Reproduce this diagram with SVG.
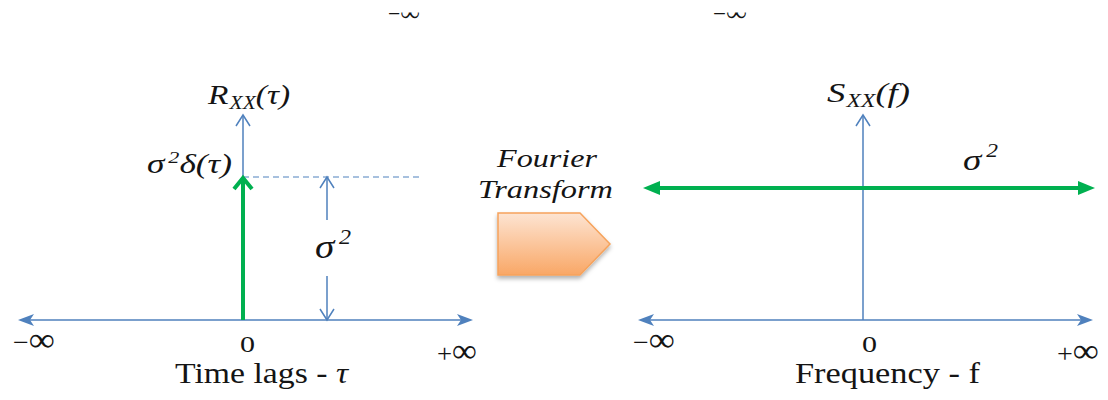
<svg xmlns="http://www.w3.org/2000/svg" width="1108" height="400" viewBox="0 0 1108 400">
<style>
  .ax { stroke:#4f81bd; stroke-width:1.5; fill:none; }
  .gr { stroke:#00b050; stroke-width:4; fill:none; }
  .dash { stroke:#4f81bd; stroke-width:1; stroke-dasharray:6 4; fill:none; }
  .t { font-family:"Liberation Serif","Times New Roman",serif; fill:#141414; }
  .m { font-family:"Liberation Serif","Times New Roman",serif; font-style:italic; fill:#141414; }
</style>
<defs>
  <marker id="blueTri" markerUnits="userSpaceOnUse" markerWidth="18" markerHeight="14" viewBox="0 0 18 14" refX="4" refY="6" orient="auto-start-reverse" overflow="visible">
    <path d="M0,0 L16,6 L0,12 L4,6 Z" fill="#4f81bd"/>
  </marker>
  <marker id="blueChev" markerUnits="userSpaceOnUse" markerWidth="14" markerHeight="16" viewBox="0 0 14 16" refX="11" refY="7" orient="auto" overflow="visible">
    <path d="M0,0 L11,7 L0,14" fill="none" stroke="#4f81bd" stroke-width="1.5"/>
  </marker>
  <marker id="greenChev" markerUnits="userSpaceOnUse" markerWidth="16" markerHeight="22" viewBox="0 0 16 22" refX="11" refY="9" orient="auto" overflow="visible">
    <path d="M0,0 L11,9 L0,18" fill="none" stroke="#00b050" stroke-width="4"/>
  </marker>
  <marker id="greenTri" markerUnits="userSpaceOnUse" markerWidth="20" markerHeight="16" viewBox="0 0 20 16" refX="4" refY="7" orient="auto-start-reverse" overflow="visible">
    <path d="M0,0 L17,7 L0,14 Z" fill="#00b050"/>
  </marker>
  <linearGradient id="og" x1="0" y1="0" x2="0" y2="1">
    <stop offset="0" stop-color="#fde4d2"/>
    <stop offset="1" stop-color="#f9a766"/>
  </linearGradient>
  <filter id="sh" x="-20%" y="-20%" width="140%" height="150%">
    <feDropShadow dx="0" dy="3" stdDeviation="2" flood-color="#000" flood-opacity="0.3"/>
  </filter>
  <clipPath id="topclip"><rect x="0" y="12.5" width="1108" height="400"/></clipPath>
</defs>

<rect width="1108" height="400" fill="#ffffff"/>

<g id="top-remnants" clip-path="url(#topclip)">
  <text class="t" x="388" y="21" font-size="22" textLength="32" lengthAdjust="spacingAndGlyphs">−<tspan font-size="28">∞</tspan></text>
  <text class="t" x="713" y="21" font-size="22" textLength="34" lengthAdjust="spacingAndGlyphs">−<tspan font-size="28">∞</tspan></text>
</g>

<g id="connectors">
  <line class="ax" x1="30" y1="320" x2="461" y2="320" marker-start="url(#blueTri)" marker-end="url(#blueTri)"/>
  <line class="ax" x1="243" y1="320" x2="243" y2="115" marker-end="url(#blueChev)"/>
  <line class="dash" x1="243" y1="177" x2="423" y2="177"/>
  <line class="ax" x1="327" y1="220" x2="327" y2="177" marker-end="url(#blueChev)"/>
  <line class="ax" x1="327" y1="276" x2="327" y2="320" marker-end="url(#blueChev)"/>
  <line class="gr" x1="243" y1="320" x2="243" y2="178" marker-end="url(#greenChev)"/>
  <line class="ax" x1="650" y1="320" x2="1081" y2="320" marker-start="url(#blueTri)" marker-end="url(#blueTri)"/>
  <line class="ax" x1="863" y1="320" x2="863" y2="115" marker-end="url(#blueChev)"/>
  <line class="gr" x1="656" y1="188" x2="1082" y2="188" marker-start="url(#greenTri)" marker-end="url(#greenTri)"/>
</g>

<g id="left-labels">
  <text class="m" x="208" y="104" font-size="28" textLength="82" lengthAdjust="spacingAndGlyphs">R<tspan font-size="18" dy="5" dx="1">XX</tspan><tspan dy="-5">(τ)</tspan></text>
  <text class="m" x="147" y="173" font-size="27" textLength="85" lengthAdjust="spacingAndGlyphs">σ<tspan font-size="17" dy="-10" dx="3">2</tspan><tspan dy="10">δ(τ)</tspan></text>
  <text class="m" x="315" y="258" font-size="34" textLength="36" lengthAdjust="spacingAndGlyphs">σ<tspan font-size="21" dy="-14" dx="4">2</tspan></text>
  <text class="t" x="13" y="351" font-size="26" textLength="42" lengthAdjust="spacingAndGlyphs">−<tspan font-size="34">∞</tspan></text>
  <text class="t" x="240" y="352" font-size="24" textLength="15" lengthAdjust="spacingAndGlyphs">0</text>
  <text class="t" x="437" y="362" font-size="26" textLength="40" lengthAdjust="spacingAndGlyphs">+<tspan font-size="34">∞</tspan></text>
  <text class="t" x="175" y="383" font-size="29" textLength="173" lengthAdjust="spacingAndGlyphs">Time lags - <tspan font-style="italic">τ</tspan></text>
</g>

<g id="fourier-transform">
  <text class="m" x="497" y="167" font-size="25" textLength="100" lengthAdjust="spacingAndGlyphs">Fourier</text>
  <text class="m" x="478" y="198" font-size="25" textLength="135" lengthAdjust="spacingAndGlyphs">Transform</text>
  <path d="M498,213 L580,213 L610,244 L580,275 L498,275 Z" fill="url(#og)" stroke="#f6a35c" stroke-width="1.5" filter="url(#sh)"/>
</g>

<g id="right-labels">
  <text class="m" x="827" y="102" font-size="28" textLength="83" lengthAdjust="spacingAndGlyphs">S<tspan font-size="18" dy="5" dx="1">XX</tspan><tspan dy="-5">(f)</tspan></text>
  <text class="m" x="963" y="170" font-size="30" textLength="35" lengthAdjust="spacingAndGlyphs">σ<tspan font-size="19" dy="-13" dx="4">2</tspan></text>
  <text class="t" x="633" y="351" font-size="26" textLength="42" lengthAdjust="spacingAndGlyphs">−<tspan font-size="34">∞</tspan></text>
  <text class="t" x="862" y="352" font-size="24" textLength="15" lengthAdjust="spacingAndGlyphs">0</text>
  <text class="t" x="1057" y="362" font-size="26" textLength="42" lengthAdjust="spacingAndGlyphs">+<tspan font-size="34">∞</tspan></text>
  <text class="t" x="795" y="383" font-size="29" textLength="185" lengthAdjust="spacingAndGlyphs">Frequency - f</text>
</g>
</svg>
